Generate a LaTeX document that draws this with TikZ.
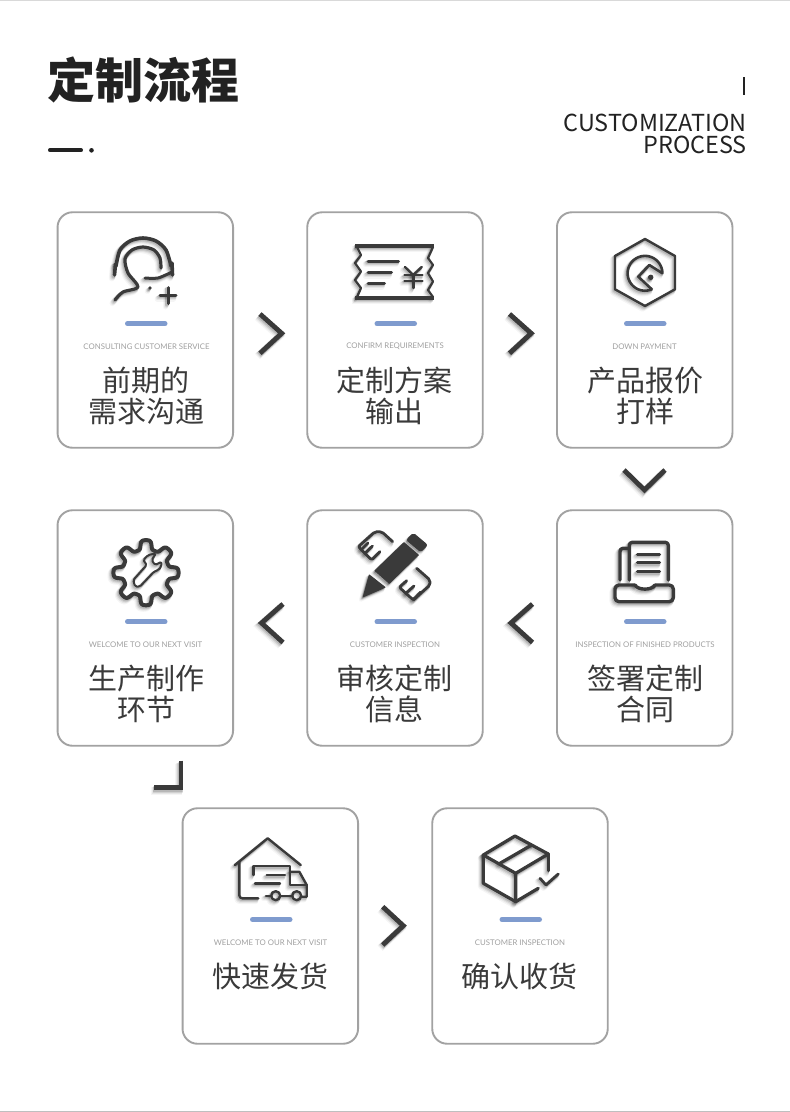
\documentclass[tikz,border=0pt]{standalone}
\usepackage{fontspec}
\setmainfont{Noto Sans}
\newfontfamily\cjk{Noto Sans CJK SC}
\newfontfamily\smallf{Lato}
\definecolor{iconc}{HTML}{3A3A3A}
\definecolor{cardc}{HTML}{A2A2A2}
\definecolor{barc}{HTML}{7F9BCE}
\definecolor{subc}{HTML}{A0A0A0}
\definecolor{titlec}{HTML}{3A3A3A}
\definecolor{headc}{HTML}{222222}
\newcommand\xtra{0.6}
\newcommand\icop{1}
\newcommand\iccol{iconc}
\tikzset{
  x=1pt,y=-1pt,
  ic/.style={draw=\iccol,line width=#1+\xtra,opacity=\icop,line cap=round,line join=round,fill=none},
  icf/.style={fill=\iccol,opacity=\icop,draw=\iccol,line width=0.4+\xtra,line join=round},
  chev/.style={draw=\iccol,line width=4.2+\xtra,opacity=\icop,line cap=butt,line join=miter,fill=none},
  card/.style={draw=cardc,line width=1.9,rounded corners=15,minimum width=175.5,minimum height=235.5,inner sep=0,fill=white},
  bar/.style={draw=barc,line width=5,line cap=round},
  sub/.style={text=subc,font=\smallf\fontsize{7.8}{9}\selectfont,inner sep=0,anchor=center},
  ttl/.style={text=titlec,font=\cjk\fontsize{29}{31}\selectfont,inner sep=0,anchor=center,align=center},
}
\newcommand\shadowed[1]{%
  \foreach \sdx/\sdy/\sxt/\sop in {-2.6/3.2/3.2/0.04,-2/2.5/2.4/0.06,-1.4/1.8/1.8/0.09,-0.8/1.1/1.2/0.12}{%
    \begin{scope}[shift={(\sdx,\sdy)}]
      \renewcommand\xtra{\sxt}\renewcommand\icop{\sop}\renewcommand\iccol{black}
      #1
    \end{scope}
  }%
  #1%
}
\begin{document}
\begin{tikzpicture}
\useasboundingbox (0,0) rectangle (790,1112);
\fill[white] (0,0) rectangle (790,1112);
\fill[black!15] (0,0) rectangle (790,1.2);
\fill[black!25] (0,1110.5) rectangle (790,1112);

% header
\node[inner sep=0,anchor=west,text=headc,font=\cjk\bfseries\fontsize{48}{50}\selectfont] (head) at (47,80) {定制流程};
\draw[headc,line width=4,line cap=round] (50,150.3) -- (81,150.3);
\fill[headc] (91.5,150.3) circle (2.3);
\draw[headc,line width=1.6] (744,77) -- (744,95);
\node[inner sep=0,anchor=east,text=headc,font=\cjk\fontsize{23.4}{26}\selectfont] (en1) at (747,123) {CUSTOMIZATION};
\node[inner sep=0,anchor=east,text=headc,font=\cjk\fontsize{23.4}{26}\selectfont] (en2) at (747,145) {PROCESS};

% cards
\node[card] (c1) at (145.3,330) {};
\node[card] (c2) at (395,330) {};
\node[card] (c3) at (644.7,330) {};
\node[card] (c4) at (644.7,628) {};
\node[card] (c5) at (395,628) {};
\node[card] (c6) at (145.3,628) {};
\node[card] (c7) at (270.3,926) {};
\node[card] (c8) at (520,926) {};

% bars
\draw[bar] (127.5,323.7) -- (165,323.7);
\draw[bar] (377,323.7) -- (414.5,323.7);
\draw[bar] (626.5,323.7) -- (664,323.7);
\draw[bar] (626.5,621.7) -- (664,621.7);
\draw[bar] (377,621.7) -- (414.5,621.7);
\draw[bar] (127.5,621.7) -- (165,621.7);
\draw[bar] (252.5,919.5) -- (290,919.5);
\draw[bar] (502,919.5) -- (539.5,919.5);

% small labels
\node[sub] (s1) at (146.5,346.4) {CONSULTING CUSTOMER SERVICE};
\node[sub] (s2) at (395,346.4) {CONFIRM REQUIREMENTS};
\node[sub] (s3) at (644.5,346.4) {DOWN PAYMENT};
\node[sub] (s4) at (645,644.4) {INSPECTION OF FINISHED PRODUCTS};
\node[sub] (s5) at (395,644.4) {CUSTOMER INSPECTION};
\node[sub] (s6) at (145.5,644.4) {WELCOME TO OUR NEXT VISIT};
\node[sub] (s7) at (270.5,942.4) {WELCOME TO OUR NEXT VISIT};
\node[sub] (s8) at (520,942.4) {CUSTOMER INSPECTION};

% titles
\node[ttl] (t1) at (146,395.5) {前期的\\需求沟通};
\node[ttl] (t2) at (394.5,395.5) {定制方案\\输出};
\node[ttl] (t3) at (645,395.5) {产品报价\\打样};
\node[ttl] (t4) at (645,693.5) {签署定制\\合同};
\node[ttl] (t5) at (394.5,693.5) {审核定制\\信息};
\node[ttl] (t6) at (146,693.5) {生产制作\\环节};
\node[ttl] (t7) at (270.5,976) {快速发货};
\node[ttl] (t8) at (519.5,976) {确认收货};

% chevrons
\shadowed{\path[chev] (260,314) -- (281.7,333.3) -- (260,353.3);}
\shadowed{\path[chev] (509.5,314) -- (531.2,333.3) -- (509.5,353.3);}
\shadowed{\path[chev] (624,470) -- (644.5,490) -- (665,470);}
\shadowed{\path[chev] (532.5,604) -- (511,623) -- (532.5,642.5);}
\shadowed{\path[chev] (283,604) -- (261.5,623) -- (283,642.5);}
\shadowed{\path[chev] (181,760.7) -- (181,787.7) -- (154,787.7);}
\shadowed{\path[chev] (382.7,906.7) -- (403.3,925.7) -- (382.7,945);}

% icon 1 : headset
\shadowed{
  \path[ic=3] plot[smooth] coordinates {(116,266) (120,250) (130,241) (143,238) (156,241) (166,250) (171,266)};
  \path[ic=3] (115.5,264) -- (114.5,275);
  \path[ic=3] (172,263) -- (172.5,275);
  \path[ic=2.6] plot[smooth] coordinates {(115,300) (123,292) (138,287) (128,273) (125,259) (132,250) (143,247) (154,250) (160,258) (161,268)};
  \path[ic=2.4] plot[smooth] coordinates {(172,272) (158,278) (145,278)};
  \path[icf] (150,288) circle (1.2);
  \path[ic=2.4] (160,295.5) -- (176,295.5);
  \path[ic=2.4] (168,287.5) -- (168,303.5);
}

% icon 2 : ticket
\shadowed{
  \path[ic=3,line cap=butt] (355,246) -- (434,246);
  \path[ic=3,line cap=butt] (355,298) -- (434,298);
  \path[ic=1.6] (357,247) -- (361,255) -- (355,263) -- (361,271.5) -- (355,280) -- (361,288) -- (357,297);
  \path[ic=1.6] (433,247) -- (428,258) -- (433,265) -- (428,273) -- (433,281.5) -- (428,290) -- (433,297);
  \path[ic=2.4] (368,261) -- (398.5,261);
  \path[ic=2.4] (368,272.5) -- (391.5,272.5);
  \path[ic=2.4] (368,283.5) -- (384.5,283.5);
  \path[ic=1.8] (405,267) -- (413.3,275) -- (421.7,267);
  \path[ic=1.8] (413.3,275) -- (413.3,288);
  \path[ic=1.8] (404.5,275) -- (422.5,275);
  \path[ic=1.8] (404.5,280.7) -- (422.5,280.7);
}

% icon 3 : hexagon
\shadowed{
  \path[ic=1.8] (645,239) -- (675,256) -- (675,289.3) -- (645,306) -- (615,289.3) -- (615,256) -- cycle;
  \path[ic=2] plot[domain=67:360,samples=50] ({645+17.4*cos(\x)},{273.3+17.4*sin(\x)}) -- (649.3,265) -- (638.3,276.7) -- (651.8,289.3);
  \path[icf] (650.7,277.3) circle (2.2);
}

% icon 4 : tray
\shadowed{
  \path[ic=2.8,rounded corners=3] (629.3,580) -- (629.3,542.3) -- (668.3,542.3) -- (668.3,580);
  \path[ic=2.8,rounded corners=3] (629.3,548.3) -- (620,548.3) -- (620,580);
  \path[ic=2.6] (637.5,554.3) -- (659.5,554.3);
  \path[ic=2.6] (637.5,562.7) -- (659.5,562.7);
  \path[ic=2.6] (637.5,571.7) -- (659.5,571.7);
  \path[ic=2.8,rounded corners=4] (635,585) -- (615,585) -- (615,601.7) -- (673.3,601.7) -- (673.3,585) -- (655,585);
  \path[ic=2.8] (635,585) .. controls (638,590.5) and (652,590.5) .. (655,585);
}

% icon 5 : pencil and rulers
\shadowed{
  \path[icf] (363.3,596.7) -- (369.3,575) -- (385,587.3) -- cycle;
  \path[icf] (375,570.7) -- (404,542.7) -- (418.3,555) -- (389.3,583.3) -- cycle;
  \path[icf,rounded corners=2] (406.7,540) -- (413.3,533.3) -- (427.3,545) -- (420.7,551.7) -- cycle;
  \path[ic=2.2,rounded corners=2] (392.7,541.7) -- (381.7,531.7) -- (375,531.7) -- (358.3,546.7) -- (371.7,560) -- (380,551.7);
  \path[ic=2.2] (365,553.3) -- (372.5,546);
  \path[ic=2.2] (361.5,549.5) -- (368,543);
  \path[ic=2.2,rounded corners=2] (416.7,568.3) -- (430,580) -- (430,585) -- (413.3,600) -- (399.3,587.3) -- (406.7,580.7);
  \path[ic=2.2] (406,593.3) -- (414,586);
  \path[ic=2.2] (413.3,600) -- (420.7,592);
}

% icon 6 : gear and wrench
\shadowed{
  \path[ic=3.4] plot[domain=0:360,samples=321] ({146+(28+5*cos(8*\x)/sqrt(cos(8*\x)*cos(8*\x)+0.2))*cos(\x)},{572.7+(28+5*cos(8*\x)/sqrt(cos(8*\x)*cos(8*\x)+0.2))*sin(\x)}) -- cycle;
  \path[ic=1.4,rounded corners=1.5] (133.3,580) -- (146.7,565) -- (143.3,560) -- (148.3,555) -- (156,553.3) -- (151.7,560) -- (155,565) -- (161.7,561.7) -- (161,567) -- (158.3,570) -- (154,571.7) -- (140,586.5) -- (135,586.5) -- cycle;
}

% icon 7 : warehouse truck
\shadowed{
  \path[ic=1.8] (235,865) -- (267.7,838.3) -- (300.7,865);
  \path[ic=1.8,rounded corners=3] (239.3,861.7) -- (239.3,898.3) -- (258.3,898.3);
  \path[ic=1.8] (253.3,875) -- (253.3,866) -- (290,866) -- (290,885) -- (306.7,885);
  \path[ic=1.8] (290,871.7) -- (299.3,871.7) -- (306.7,885) -- (306.7,896.7) -- (302,896.7);
  \path[ic=1.8] (266.7,875) -- (285,875);
  \path[ic=1.8] (255,883.3) -- (280,883.3);
  \path[ic=1.8] (266,895.7) -- (270.7,895.7);
  \path[ic=1.8] (280.5,895.7) -- (292,895.7);
  \path[ic=1.8] (275.7,895.7) circle (4.5);
  \path[ic=1.8] (296.7,895.7) circle (4.5);
}

% icon 8 : parcel
\shadowed{
  \path[ic=2.6] (515,836) -- (548.3,854) -- (515.7,873.3) -- (483.3,855) -- cycle;
  \path[ic=2.6] (483.3,855) -- (483.3,883.3) -- (515.7,901.7) -- (515.7,873.3);
  \path[ic=2.6] (548.3,854) -- (548.3,870.7);
  \path[ic=2.6] (515.7,901.7) -- (538.3,888.3);
  \path[ic=2.6] (500,863.3) -- (531.7,845);
  \path[ic=2.2] (540,878.3) -- (546,885) -- (558.3,874);
}
\end{tikzpicture}
\end{document}
